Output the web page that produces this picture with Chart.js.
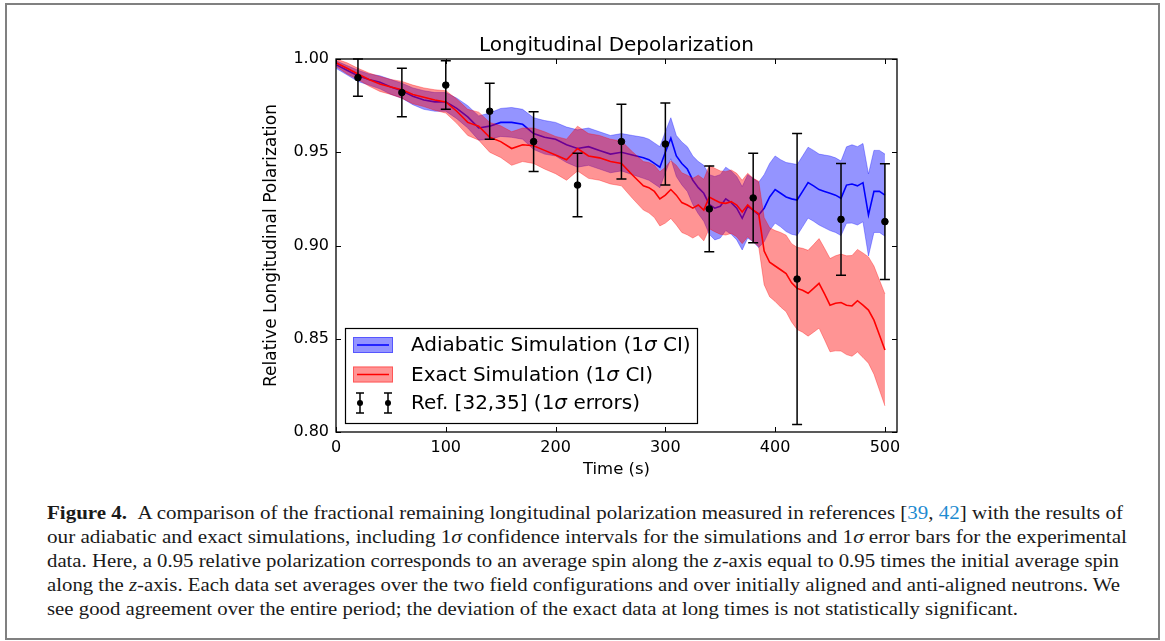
<!DOCTYPE html>
<html>
<head>
<meta charset="utf-8">
<script src="https://cdn.jsdelivr.net/npm/chart.js@4.4.1/dist/chart.umd.min.js"></script>
<style>
  body { margin: 0; background: #fff; width: 1165px; height: 641px; overflow: hidden; position: relative; }
  #frame { position: absolute; left: 5px; top: 3px; width: 1155px; height: 637px; border: 2px solid #808080; box-sizing: border-box; }
  #chart { position: absolute; left: 0; top: 0; }
  .ln { position: absolute; left: 47px; white-space: nowrap; font-family: "Liberation Serif", "DejaVu Serif", serif; font-size: 19px; line-height: 24px; color: #1a1a1a; transform-origin: 0 50%; display: inline-block; }
  .ref { color: #1e8bd1; }
</style>
</head>
<body>
<div id="frame"></div>
<canvas id="chart" width="1165" height="490"></canvas>
<div id="caption">
  <div class="ln" data-w="1076" style="top:501px"><b>Figure 4.</b>&nbsp;&nbsp;A comparison of the fractional remaining longitudinal polarization measured in references [<span class="ref">39</span>, <span class="ref">42</span>] with the results of</div>
  <div class="ln" data-w="1080" style="top:525px">our adiabatic and exact simulations, including 1<i>σ</i> confidence intervals for the simulations and 1<i>σ</i> error bars for the experimental</div>
  <div class="ln" data-w="1072" style="top:549px">data. Here, a 0.95 relative polarization corresponds to an average spin along the <i>z</i>-axis equal to 0.95 times the initial average spin</div>
  <div class="ln" data-w="1073" style="top:573px">along the <i>z</i>-axis. Each data set averages over the two field configurations and over initially aligned and anti-aligned neutrons. We</div>
  <div class="ln" data-w="971" style="top:597px">see good agreement over the entire period; the deviation of the exact data at long times is not statistically significant.</div>
</div>
<script>
// time grid of the simulations (s)
const times = [
  0, 10, 20, 30, 40, 50, 60, 70, 80, 90, 100, 110, 120, 130, 140, 150, 160, 170, 180, 190,
  200, 210, 220, 230, 240, 250, 260, 270,
  280, 285, 290, 295, 300, 305, 310, 315, 320, 325, 330, 335, 340, 345, 350, 355, 360, 365,
  370, 375, 380, 385, 390, 395, 400, 405, 410, 415, 420, 425, 430, 435, 440, 445, 450, 455,
  460, 465, 470, 475, 480, 485, 490, 495, 500
];

const adiabaticMean = [
  0.997, 0.994, 0.991, 0.989, 0.9875, 0.985, 0.983, 0.980, 0.978, 0.977, 0.977, 0.9735, 0.969, 0.963, 0.964, 0.966, 0.966, 0.965, 0.960, 0.958,
  0.957, 0.954, 0.952, 0.953, 0.951, 0.949, 0.950, 0.9485,
  0.947, 0.946, 0.944, 0.942, 0.950, 0.9575, 0.948, 0.944, 0.941, 0.935, 0.931, 0.928, 0.922, 0.920, 0.921, 0.925, 0.923, 0.920,
  0.9146, 0.921, 0.919, 0.9164, 0.920, 0.926, 0.930, 0.928, 0.926, 0.925, 0.9244, 0.929, 0.9337, 0.932, 0.930, 0.929, 0.928, 0.927,
  0.9253, 0.9324, 0.933, 0.932, 0.9337, 0.9164, 0.929, 0.929, 0.927
];
const adiabaticSigma = [
  0.002, 0.0025, 0.003, 0.003, 0.0035, 0.004, 0.004, 0.0045, 0.005, 0.005, 0.005, 0.0055, 0.006, 0.0065, 0.007, 0.0075, 0.008, 0.008, 0.0085, 0.009,
  0.009, 0.0095, 0.010, 0.010, 0.010, 0.010, 0.010, 0.0105,
  0.011, 0.011, 0.011, 0.011, 0.011, 0.011, 0.011, 0.0115, 0.012, 0.013, 0.014, 0.015, 0.016, 0.017, 0.017, 0.017, 0.017, 0.017,
  0.017, 0.017, 0.017, 0.0175, 0.018, 0.018, 0.018, 0.018, 0.0185, 0.019, 0.019, 0.019, 0.019, 0.019, 0.019, 0.0195, 0.020, 0.020,
  0.020, 0.0205, 0.021, 0.021, 0.021, 0.022, 0.022, 0.022, 0.022
];

const exactMean = [
  0.998, 0.995, 0.992, 0.989, 0.9866, 0.985, 0.9835, 0.981, 0.9795, 0.978, 0.977, 0.972, 0.966, 0.964, 0.958, 0.9557, 0.952, 0.954, 0.9535, 0.951,
  0.9485, 0.946, 0.952, 0.948, 0.947, 0.945, 0.944, 0.9378,
  0.932, 0.931, 0.929, 0.925, 0.927, 0.930, 0.927, 0.923, 0.9217, 0.920, 0.9217, 0.919, 0.926, 0.9244, 0.923, 0.9226, 0.9235, 0.9217,
  0.918, 0.9217, 0.919, 0.917, 0.897, 0.891, 0.889, 0.887, 0.885, 0.880, 0.877, 0.876, 0.8744, 0.877, 0.8797, 0.874, 0.868, 0.869,
  0.8694, 0.868, 0.8676, 0.8704, 0.868, 0.8654, 0.860, 0.852, 0.844
];
const exactSigma = [
  0.002, 0.003, 0.003, 0.0035, 0.004, 0.004, 0.0045, 0.005, 0.005, 0.0055, 0.006, 0.0065, 0.007, 0.0075, 0.008, 0.0085, 0.009, 0.009, 0.0095, 0.010,
  0.010, 0.011, 0.012, 0.012, 0.012, 0.012, 0.012, 0.0125,
  0.013, 0.0135, 0.014, 0.0145, 0.015, 0.0155, 0.016, 0.016, 0.016, 0.016, 0.016, 0.0165, 0.017, 0.017, 0.017, 0.017, 0.017, 0.017,
  0.017, 0.017, 0.017, 0.0175, 0.018, 0.0185, 0.019, 0.020, 0.0205, 0.021, 0.022, 0.0225, 0.023, 0.0235, 0.024, 0.0245, 0.025, 0.0255,
  0.026, 0.0265, 0.027, 0.0275, 0.028, 0.0285, 0.029, 0.0295, 0.030
];

// measured points, Ref. [32,35]
const refTimes = [20, 60, 100, 140, 180, 220, 260, 300, 340, 380, 420, 460, 500];
const refValues = [0.990, 0.982, 0.986, 0.972, 0.9557, 0.9324, 0.9557, 0.9544, 0.9196, 0.9255, 0.882, 0.914, 0.9128];
const refErrors = [0.010, 0.013, 0.013, 0.015, 0.016, 0.017, 0.020, 0.022, 0.023, 0.024, 0.078, 0.030, 0.031];

const xTicks = [0, 100, 200, 300, 400, 500];
const yTicks = [0.80, 0.85, 0.90, 0.95, 1.00];

const legendLabels = ["Adiabatic Simulation (1σ CI)", "Exact Simulation (1σ CI)", "Ref. [32,35] (1σ errors)"];

const BLUE_FILL = "rgba(0, 0, 255, 0.42)";
const RED_FILL = "rgba(255, 0, 0, 0.42)";

const pts = (vals) => times.map((t, i) => ({ x: t, y: vals[i] }));
const upper = (m, s) => m.map((v, i) => v + s[i]);
const lower = (m, s) => m.map((v, i) => v - s[i]);

function drawParts(ctx, x, y, text, size) {
  const parts = text.split("σ");
  parts.forEach((p, i) => {
    ctx.font = size + "px 'DejaVu Sans'";
    ctx.fillText(p, x, y);
    x += ctx.measureText(p).width;
    if (i < parts.length - 1) {
      ctx.font = "italic " + size + "px 'DejaVu Sans'";
      ctx.fillText("σ", x, y);
      x += ctx.measureText("σ").width;
    }
  });
}

function errBar(ctx, px, top, bot, cap) {
  ctx.beginPath();
  ctx.moveTo(px, top); ctx.lineTo(px, bot);
  ctx.moveTo(px - cap, top); ctx.lineTo(px + cap, top);
  ctx.moveTo(px - cap, bot); ctx.lineTo(px + cap, bot);
  ctx.stroke();
}

const framePlugin = {
  id: "frame",
  afterDatasetsDraw(chart) {
    const { ctx, chartArea: a, scales: { x, y } } = chart;
    ctx.save();

    // error bars of the measurements
    ctx.strokeStyle = "#000";
    ctx.lineWidth = 1.5;
    refTimes.forEach((t, i) => {
      errBar(ctx, x.getPixelForValue(t),
        y.getPixelForValue(refValues[i] + refErrors[i]),
        y.getPixelForValue(refValues[i] - refErrors[i]), 5);
    });

    // axes box and inward ticks
    ctx.lineWidth = 1.3;
    ctx.strokeRect(a.left, a.top, a.right - a.left, a.bottom - a.top);
    ctx.lineWidth = 1;
    ctx.beginPath();
    xTicks.forEach((v) => {
      const px = Math.round(x.getPixelForValue(v)) + 0.5;
      ctx.moveTo(px, a.bottom); ctx.lineTo(px, a.bottom - 5);
      ctx.moveTo(px, a.top); ctx.lineTo(px, a.top + 5);
    });
    yTicks.forEach((v) => {
      const py = Math.round(y.getPixelForValue(v)) + 0.5;
      ctx.moveTo(a.left, py); ctx.lineTo(a.left + 5, py);
      ctx.moveTo(a.right, py); ctx.lineTo(a.right - 5, py);
    });
    ctx.stroke();

    // legend
    const lx = a.left + 9, ly = a.bottom - 104, lw = 352, lh = 95;
    ctx.fillStyle = "#fff";
    ctx.fillRect(lx, ly, lw, lh);
    ctx.strokeStyle = "#000";
    ctx.lineWidth = 1.2;
    ctx.strokeRect(lx + 0.5, ly + 0.5, lw, lh);

    const rows = [ly + 17, ly + 46.5, ly + 75];
    const fills = [BLUE_FILL, RED_FILL];
    const lines = ["#0000ff", "#ff0000"];
    for (let i = 0; i < 2; i++) {
      ctx.fillStyle = fills[i];
      ctx.fillRect(lx + 8, rows[i] - 8, 40, 16);
      ctx.strokeStyle = fills[i];
      ctx.lineWidth = 1;
      ctx.strokeRect(lx + 8.5, rows[i] - 7.5, 39, 15);
      ctx.strokeStyle = lines[i];
      ctx.lineWidth = 1.5;
      ctx.beginPath();
      ctx.moveTo(lx + 12, rows[i]); ctx.lineTo(lx + 44, rows[i]);
      ctx.stroke();
    }
    ctx.strokeStyle = "#000";
    ctx.fillStyle = "#000";
    ctx.lineWidth = 1.5;
    [lx + 15, lx + 43].forEach((px) => {
      errBar(ctx, px, rows[2] - 10, rows[2] + 10, 4);
      ctx.beginPath();
      ctx.arc(px, rows[2], 3, 0, Math.PI * 2);
      ctx.fill();
    });

    ctx.fillStyle = "#000";
    ctx.textBaseline = "middle";
    ctx.textAlign = "left";
    legendLabels.forEach((lab, i) => drawParts(ctx, lx + 66, rows[i] + 1, lab, 20));

    ctx.restore();
  }
};

const lineBase = { type: "line", pointRadius: 0, tension: 0, fill: false };

new Chart(document.getElementById("chart"), {
  type: "line",
  data: {
    datasets: [
      {
        label: "Ref. [32,35]",
        data: refTimes.map((t, i) => ({ x: t, y: refValues[i] })),
        type: "line",
        showLine: false,
        pointRadius: 3.3,
        pointBackgroundColor: "#000",
        pointBorderColor: "#000",
        order: 0,
      },
      { ...lineBase, label: "Exact", data: pts(exactMean), borderColor: "#ff0000", borderWidth: 1.6, order: 1 },
      { ...lineBase, label: "Exact upper", data: pts(upper(exactMean, exactSigma)), borderColor: RED_FILL, borderWidth: 0.8, backgroundColor: RED_FILL, fill: 3, order: 2 },
      { ...lineBase, label: "Exact lower", data: pts(lower(exactMean, exactSigma)), borderColor: RED_FILL, borderWidth: 0.8, order: 3 },
      { ...lineBase, label: "Adiabatic", data: pts(adiabaticMean), borderColor: "#0000ff", borderWidth: 1.6, order: 4 },
      { ...lineBase, label: "Adiabatic upper", data: pts(upper(adiabaticMean, adiabaticSigma)), borderColor: BLUE_FILL, borderWidth: 0.8, backgroundColor: BLUE_FILL, fill: 6, order: 5 },
      { ...lineBase, label: "Adiabatic lower", data: pts(lower(adiabaticMean, adiabaticSigma)), borderColor: BLUE_FILL, borderWidth: 0.8, order: 6 },
    ],
  },
  options: {
    responsive: false,
    animation: false,
    devicePixelRatio: 1,
    events: [],
    layout: { padding: { left: 257, right: 268, top: 20, bottom: 0 } },
    plugins: {
      legend: { display: false },
      tooltip: { enabled: false },
      title: {
        display: true,
        fullSize: false,
        text: "Longitudinal Depolarization",
        color: "#000",
        font: { family: "DejaVu Sans", size: 20, weight: "normal" },
        padding: { top: 14, bottom: 1 },
      },
    },
    scales: {
      x: {
        type: "linear",
        min: 0,
        max: 511,
        afterBuildTicks: (s) => { s.ticks = xTicks.map((v) => ({ value: v })); },
        afterFit: (s) => { s.height = 58; },
        grid: { display: false, drawTicks: false },
        border: { display: false },
        ticks: { color: "#000", padding: 6, maxRotation: 0, autoSkip: false, font: { family: "DejaVu Sans", size: 16 }, callback: (v) => String(v) },
        title: { display: true, text: "Time (s)", color: "#000", font: { family: "DejaVu Sans", size: 16.5 }, padding: { top: 0, bottom: 10 } },
      },
      y: {
        min: 0.8,
        max: 1.0,
        afterBuildTicks: (s) => { s.ticks = yTicks.map((v) => ({ value: v })); },
        afterFit: (s) => { s.width = 79; },
        grid: { display: false, drawTicks: false },
        border: { display: false },
        ticks: { color: "#000", padding: 7, autoSkip: false, font: { family: "DejaVu Sans", size: 16 }, callback: (v) => Number(v).toFixed(2) },
        title: { display: true, text: "Relative Longitudinal Polarization", color: "#000", font: { family: "DejaVu Sans", size: 17 }, padding: { top: 4, bottom: 0 } },
      },
    },
  },
  plugins: [framePlugin],
});

// fit each caption line to its justified width
document.querySelectorAll(".ln").forEach((el) => {
  const w = el.getBoundingClientRect().width;
  el.style.transform = "scaleX(" + (Number(el.dataset.w) / w) + ")";
});
</script>
</body>
</html>
